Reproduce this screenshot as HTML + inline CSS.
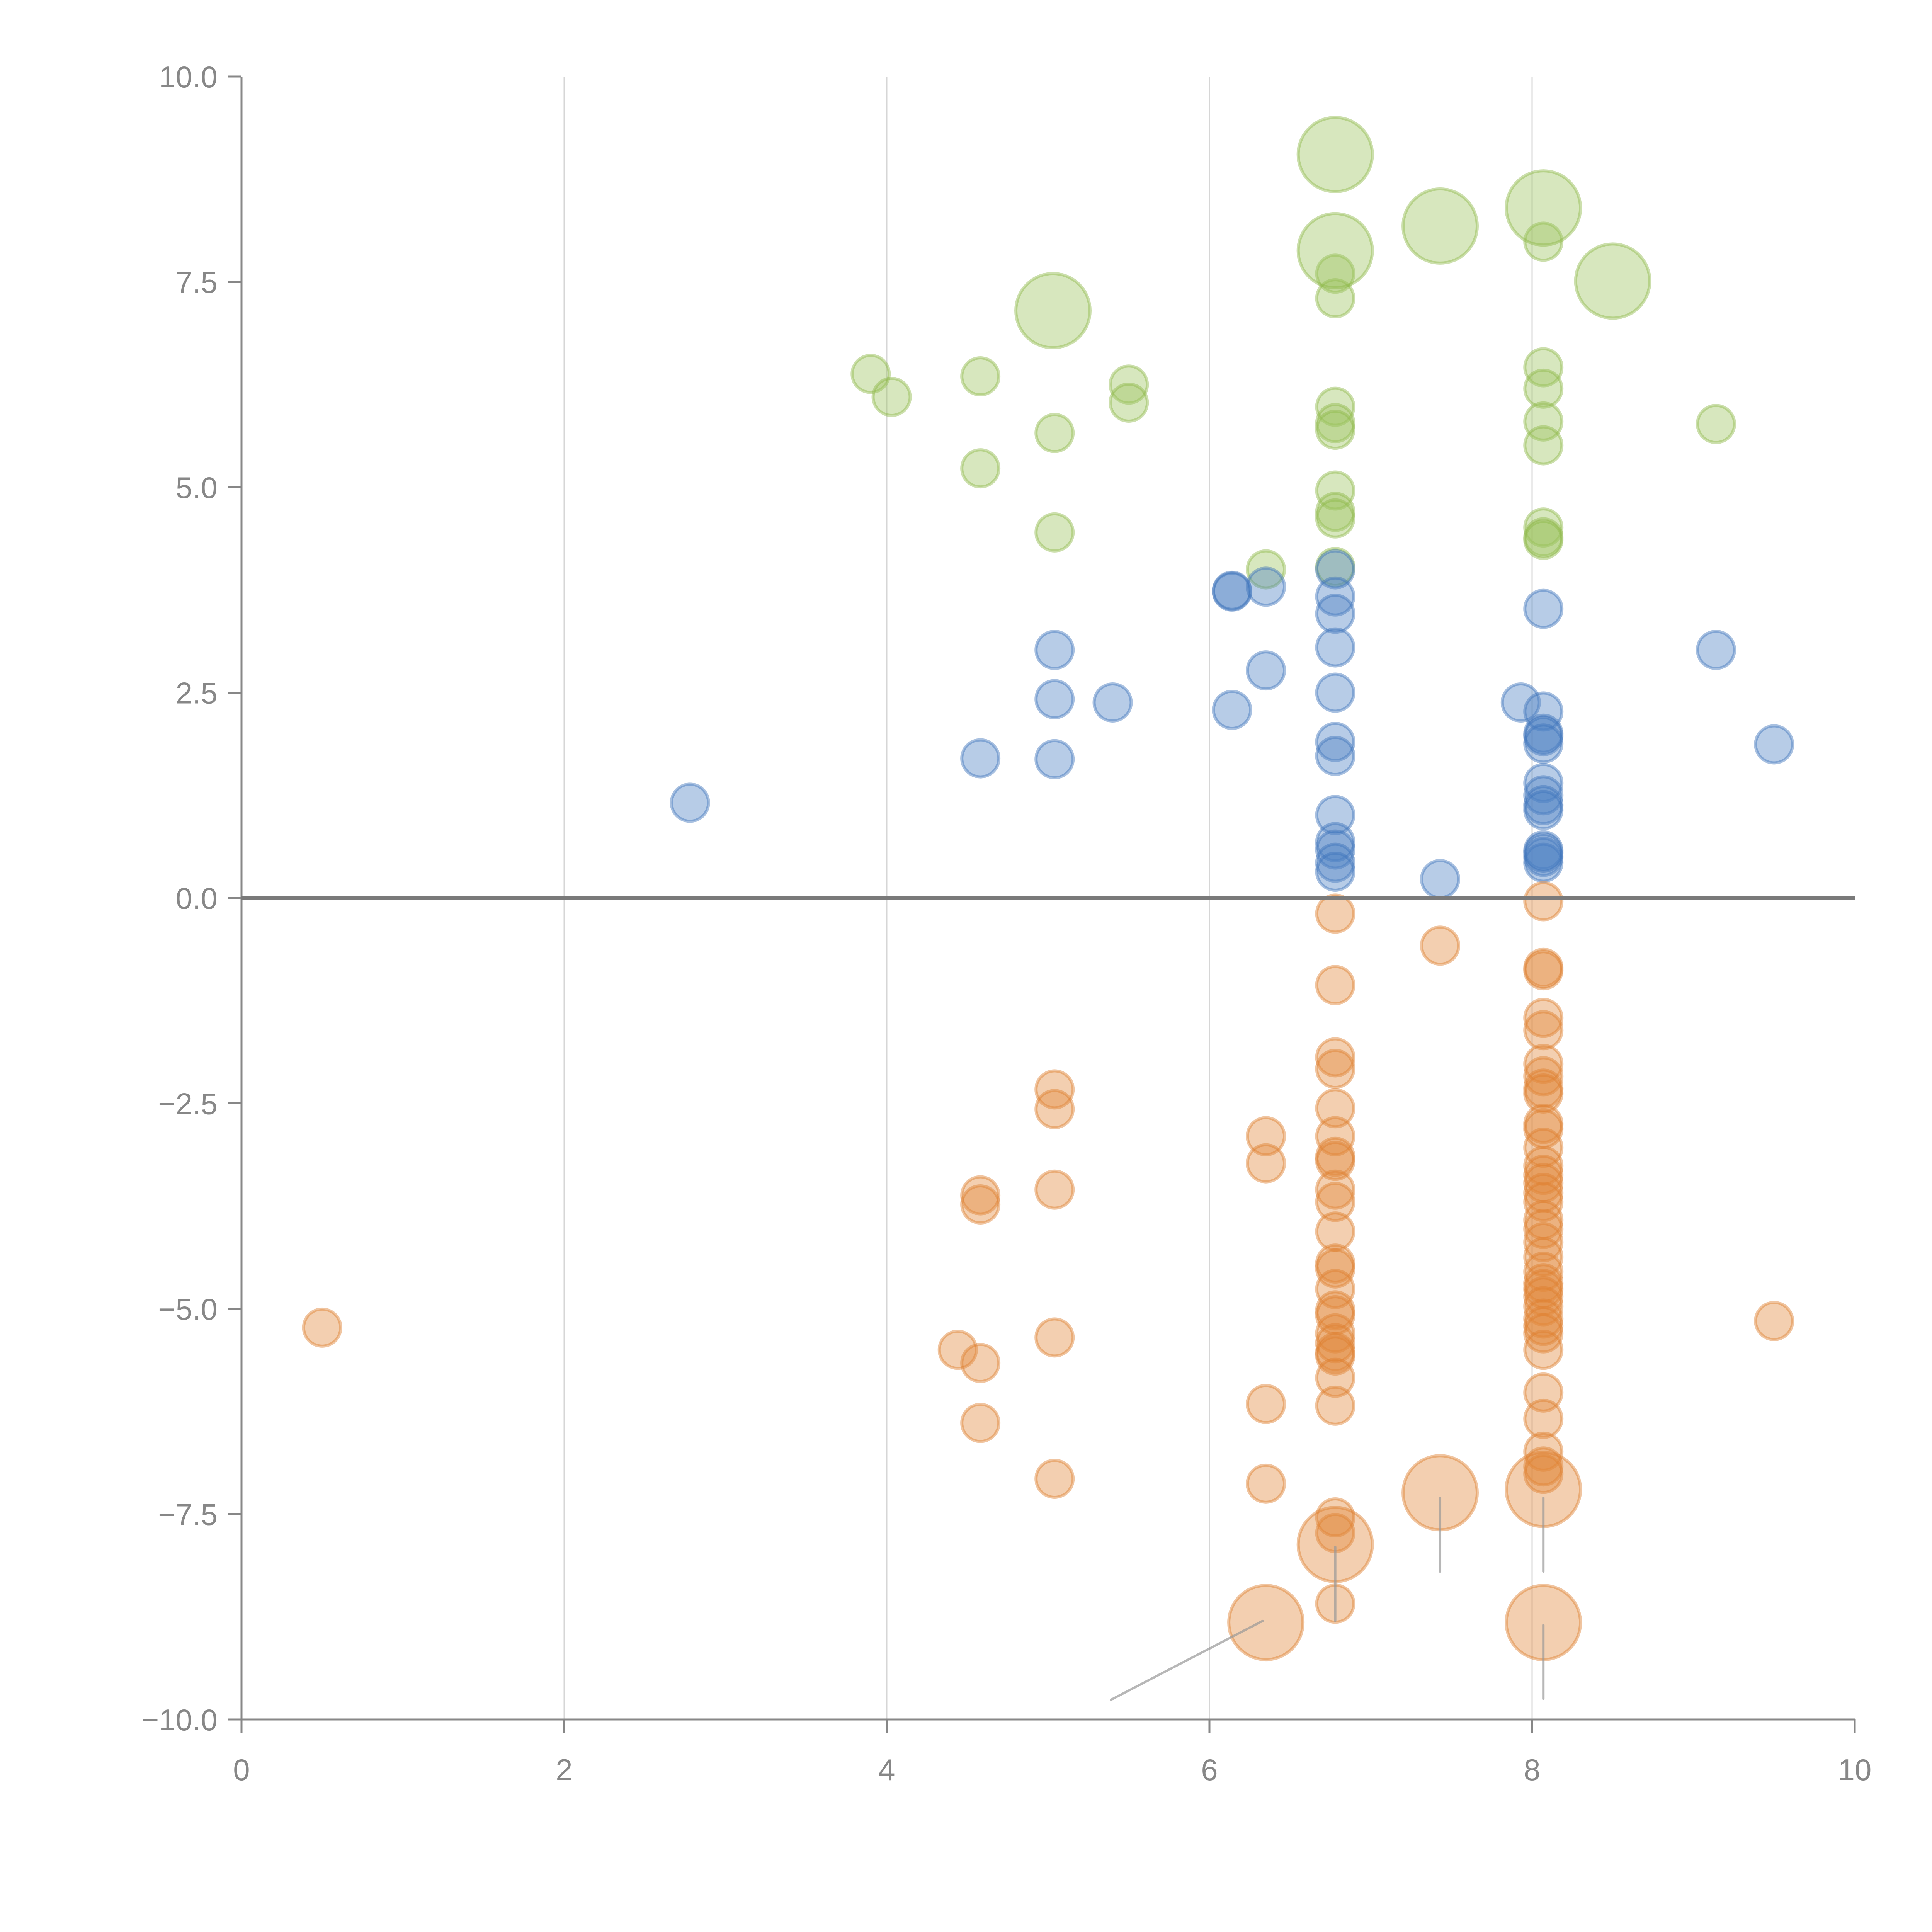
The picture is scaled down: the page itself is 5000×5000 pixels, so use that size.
<!DOCTYPE html>
<html><head><meta charset="utf-8"><style>
html,body{margin:0;padding:0;background:#fff;width:5000px;height:5000px;overflow:hidden}
svg{display:block}
text{font-family:"Liberation Sans",Arial,sans-serif;fill:#878787;font-size:78px}
</style></head><body>
<svg id="chart" width="5000" height="5000" viewBox="0 0 5000 5000">
<g id="grid"></g>
<g id="marks"></g>
<g id="axes"></g>
</svg>
<script>
const xTicks=[0,2,4,6,8,10];
const xTickLabels=["0","2","4","6","8","10"];
const yTicks=[-10,-7.5,-5,-2.5,0,2.5,5,7.5,10];
const yTickLabels=["\u221210.0","\u22127.5","\u22125.0","\u22122.5","0.0","2.5","5.0","7.5","10.0"];

const greenX=[3.9,4.03,4.58,4.58,5.04,5.04,5.5,5.5,6.35,6.78,6.78,6.78,6.78,6.78,6.78,6.78,6.78,6.78,8.07,8.07,8.07,8.07,8.07,8.07,8.07,8.07,9.14];
const greenY=[6.38,6.10,6.35,5.23,5.66,4.45,6.25,6.03,4.0,7.6,7.3,5.98,5.78,5.7,4.96,4.7,4.62,4.03,7.99,6.46,6.2,5.8,5.51,4.51,4.39,4.36,5.77];
const greenBigX=[6.78,6.78,5.03,7.43,8.07,8.5];
const greenBigY=[9.05,7.88,7.15,8.18,8.4,7.51];

const blueX=[2.78,4.58,5.04,5.04,5.04,5.4,6.14,6.14,6.14,6.35,6.35,6.78,6.78,6.78,6.78,6.78,6.78,6.78,6.78,6.78,6.78,6.78,6.78,7.43,7.93,8.07,8.07,8.07,8.07,8.07,8.07,8.07,8.07,8.07,8.07,8.07,8.07,8.07,9.14,9.5];
const blueY=[1.16,1.7,3.02,2.42,1.69,2.38,3.73,3.74,2.29,3.79,2.77,4.0,3.67,3.46,3.05,2.5,1.9,1.73,1.01,0.68,0.59,0.43,0.32,0.23,2.38,3.52,2.27,2.0,1.97,1.88,1.4,1.25,1.13,1.07,0.58,0.5,0.43,0.55,3.02,1.87];

const orangeX=[0.5,4.44,4.58,4.58,4.58,4.58,5.04,5.04,5.04,5.04,5.04,6.35,6.35,6.35,6.35,
6.78,6.78,6.78,6.78,6.78,6.78,6.78,6.78,6.78,6.78,6.78,6.78,6.78,6.78,6.78,6.78,6.78,6.78,6.78,6.78,6.78,6.78,6.78,6.78,6.78,
7.43,
8.07,8.07,8.07,8.07,8.07,8.07,8.07,8.07,8.07,8.07,8.07,8.07,8.07,8.07,8.07,8.07,8.07,8.07,8.07,8.07,8.07,8.07,8.07,8.07,8.07,8.07,8.07,8.07,8.07,8.07,8.07,8.07,8.07,8.07,8.07,
9.5];
const orangeY=[-5.23,-5.5,-3.62,-3.73,-5.66,-6.39,-2.33,-2.57,-3.55,-5.35,-7.07,-2.9,-3.23,-6.16,-7.13,
-0.19,-1.06,-1.94,-2.08,-2.56,-2.9,-3.15,-3.2,-3.55,-3.7,-4.06,-4.45,-4.51,-4.76,-5.02,-5.08,-5.3,-5.42,-5.53,-5.57,-5.84,-6.18,-7.54,-7.73,-8.59,
-0.58,
-0.04,-0.85,-0.88,-1.46,-1.61,-2.02,-2.17,-2.32,-2.38,-2.75,-2.81,-3.04,-3.26,-3.37,-3.47,-3.59,-3.7,-3.92,-4.03,-4.19,-4.37,-4.55,-4.69,-4.76,-4.85,-4.97,-5.12,-5.21,-5.3,-5.5,-6.02,-6.34,-6.74,-6.92,-7.01,
-5.15];
const orangeBigX=[6.78,7.43,8.07,6.35,8.07];
const orangeBigY=[-7.87,-7.24,-7.2,-8.82,-8.82];
// leader lines for large orange bubbles: [x1,y1,x2,y2] in data units
const leaderX1=[6.33,6.78,7.43,8.07,8.07];
const leaderY1=[-8.8,-7.9,-7.3,-7.3,-8.85];
const leaderX2=[5.39,6.78,7.43,8.07,8.07];
const leaderY2=[-9.76,-8.8,-8.2,-8.2,-9.75];

const X0=625,X1=4800,Y0=4450,Y1=198;
function sx(v){return X0+(v-0)/(10-0)*(X1-X0);}
function sy(v){return Y0-(v+10)/20*(Y0-Y1);}
const NS="http://www.w3.org/2000/svg";
function mk(tag,attrs,parent){const e=document.createElementNS(NS,tag);for(const k in attrs)e.setAttribute(k,attrs[k]);parent.appendChild(e);return e;}
const grid=document.getElementById('grid'),marks=document.getElementById('marks'),axes=document.getElementById('axes');

xTicks.forEach((t,i)=>{
  if(t>0&&t<10){const g=mk('line',{x1:sx(t),x2:sx(t),y1:Y1,y2:Y0,stroke:'#d6d6d6','stroke-width':3},grid);
  
  }
  const tk=mk('line',{x1:sx(t),x2:sx(t),y1:Y0,y2:Y0+35,stroke:'#878787','stroke-width':5},axes);
  
  
  const lb=mk('text',{x:sx(t),y:Y0+157,'text-anchor':'middle'},axes);lb.textContent=xTickLabels[i];
  
  
});
yTicks.forEach((t,i)=>{
  const tk=mk('line',{x1:X0-35,x2:X0,y1:sy(t),y2:sy(t),stroke:'#878787','stroke-width':5},axes);
  
  
  const lb=mk('text',{x:X0-62,y:sy(t)+28,'text-anchor':'end'},axes);lb.textContent=yTickLabels[i];
  
  
});
const xa=mk('line',{x1:X0,x2:X1,y1:Y0,y2:Y0,stroke:'#878787','stroke-width':5},axes);


const xe=mk('line',{x1:X1,x2:X1,y1:Y0,y2:Y0+35,stroke:'#878787','stroke-width':5},axes);


const ya=mk('line',{x1:X0,x2:X0,y1:Y1,y2:Y0,stroke:'#878787','stroke-width':5},axes);


const zl=mk('line',{x1:X0,x2:X1,y1:sy(0),y2:sy(0),stroke:'#7a7a7a','stroke-width':8},axes);



function bubbles(xs,ys,r,fill,stroke,name){
  xs.forEach((x,i)=>{
    const c=mk('circle',{cx:sx(x),cy:sy(ys[i]),r:r,fill:fill,'fill-opacity':0.4,stroke:stroke,'stroke-opacity':0.45,'stroke-width':8},marks);
    
    
  });
}
bubbles(greenX,greenY,48,'#9bc25c','#8fb94a','green-bubble');
bubbles(greenBigX,greenBigY,96,'#9bc25c','#8fb94a','green-large-bubble');
bubbles(blueX,blueY,48,'#4a7fc3','#3f74ba','blue-bubble');
bubbles(orangeX,orangeY,48,'#e0873a','#dd7f2e','orange-bubble');
bubbles(orangeBigX,orangeBigY,96,'#e0873a','#dd7f2e','orange-large-bubble');
leaderX1.forEach((x,i)=>{
  const l=mk('line',{x1:sx(x),y1:sy(leaderY1[i]),x2:sx(leaderX2[i]),y2:sy(leaderY2[i]),stroke:'#999','stroke-opacity':0.7,'stroke-width':6,'stroke-linecap':'round'},marks);
  
  
});
</script>
</body></html>
